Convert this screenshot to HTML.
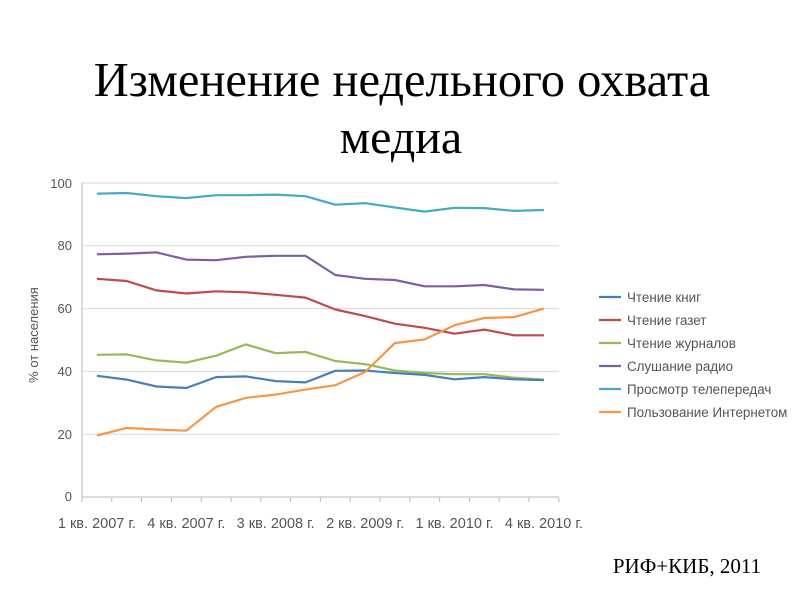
<!DOCTYPE html>
<html><head><meta charset="utf-8"><style>
body{margin:0;background:#fff;width:800px;height:600px;overflow:hidden;}
</style></head><body>
<svg width="800" height="600" xmlns="http://www.w3.org/2000/svg">
<text x="402" y="96" text-anchor="middle" font-family="Liberation Serif, serif" font-size="48.5" fill="#000">Изменение недельного охвата</text>
<text x="401" y="153" text-anchor="middle" font-family="Liberation Serif, serif" font-size="48" fill="#000">медиа</text>
<text x="687" y="573" text-anchor="middle" font-family="Liberation Serif, serif" font-size="21" fill="#000">РИФ+КИБ, 2011</text>
<g stroke="#d9d9d9" stroke-width="1">
<line x1="82" y1="183" x2="559" y2="183"/><line x1="82" y1="245.8" x2="559" y2="245.8"/><line x1="82" y1="308.6" x2="559" y2="308.6"/><line x1="82" y1="371.4" x2="559" y2="371.4"/><line x1="82" y1="434.2" x2="559" y2="434.2"/>
</g>
<line x1="82" y1="183" x2="82" y2="497" stroke="#bbb"/>
<line x1="82" y1="497" x2="559" y2="497" stroke="#bbb"/>
<g id="ticks" stroke="#bbb"></g>
<g font-family="Liberation Sans, sans-serif" font-size="13" fill="#555" text-anchor="end">
<text x="72" y="188">100</text><text x="72" y="250">80</text><text x="72" y="313">60</text><text x="72" y="376">40</text><text x="72" y="439">20</text><text x="72" y="501">0</text>
</g>
<text transform="translate(38,335) rotate(-90)" text-anchor="middle" font-family="Liberation Sans, sans-serif" font-size="13" fill="#555">% от населения</text>
<g font-family="Liberation Sans, sans-serif" font-size="14.5" fill="#555" text-anchor="middle" id="xl"></g>
<g id="series" fill="none" stroke-width="2.2" stroke-linejoin="round"></g>
<g font-family="Liberation Sans, sans-serif" font-size="13.4" fill="#555" id="leg"></g>
</svg>
<script>
var NS="http://www.w3.org/2000/svg";
function el(p,t,a,txt){var e=document.createElementNS(NS,t);for(var k in a)e.setAttribute(k,a[k]);if(txt)e.textContent=txt;document.getElementById(p).appendChild(e);}
var x0=82,w=29.8,y0=497,s=3.14;
for(var i=0;i<=16;i++){var x=x0+i*w;el("ticks","line",{x1:x,y1:497,x2:x,y2:502});}
var lab=["1 кв. 2007 г.","4 кв. 2007 г.","3 кв. 2008 г.","2 кв. 2009 г.","1 кв. 2010 г.","4 кв. 2010 г."];
for(var i=0;i<6;i++){el("xl","text",{x:x0+(i*3+0.5)*w,y:528},lab[i]);}
var D=[
["#4a7ebb","Чтение книг",[38.6,37.4,35.2,34.7,38.2,38.4,36.9,36.5,40.2,40.3,39.5,38.9,37.5,38.2,37.5,37.2]],
["#be4b48","Чтение газет",[69.5,68.8,65.8,64.8,65.5,65.2,64.4,63.5,59.7,57.6,55.2,53.9,52.0,53.3,51.5,51.5]],
["#98b954","Чтение журналов",[45.3,45.4,43.5,42.8,45.0,48.6,45.8,46.2,43.3,42.3,40.3,39.5,39.1,39.1,38.0,37.4]],
["#7d60a0","Слушание радио",[77.3,77.5,77.9,75.6,75.4,76.5,76.8,76.8,70.7,69.5,69.1,67.1,67.1,67.5,66.1,66.0]],
["#46aac5","Просмотр телепередач",[96.6,96.8,95.8,95.2,96.1,96.1,96.3,95.8,93.1,93.6,92.2,90.9,92.1,92.0,91.1,91.4]],
["#f79646","Пользование Интернетом",[19.6,22.0,21.5,21.1,28.7,31.6,32.6,34.2,35.6,39.8,49.0,50.2,54.7,57.0,57.3,60.0]]];
var order=[4,3,1,2,0,5];
order.forEach(function(j){var d=D[j];var pts=d[2].map(function(v,i){return (x0+(i+0.5)*w).toFixed(1)+","+(y0-v*s).toFixed(1);}).join(" ");el("series","polyline",{points:pts,stroke:d[0]});});
D.forEach(function(d,i){var y=297+i*23;el("leg","line",{x1:599,y1:y,x2:621,y2:y,stroke:d[0],"stroke-width":2.2});el("leg","text",{x:627,y:y+5},d[1]);});
</script>
</body></html>
